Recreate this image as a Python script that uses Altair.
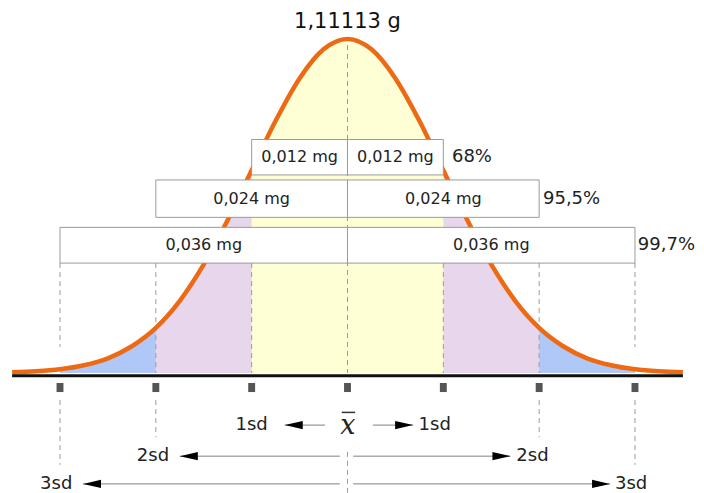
import altair as alt
import pandas as pd

# ---------------- data ----------------
title_text = "1,11113 g"

# curve (relative height, peak = 1) at steps of 0.25 sd
curve_z = [-3.5, -3.25, -3.0, -2.75, -2.5, -2.25, -2.0, -1.75, -1.5, -1.25, -1.0,
           -0.75, -0.5, -0.25, 0.0, 0.25, 0.5, 0.75, 1.0, 1.25, 1.5, 1.75, 2.0,
           2.25, 2.5, 2.75, 3.0, 3.25, 3.5]
curve_h = [0.002, 0.005, 0.011, 0.023, 0.044, 0.080, 0.135, 0.216, 0.325, 0.458, 0.607,
           0.755, 0.882, 0.969, 1.000, 0.969, 0.882, 0.755, 0.607, 0.458, 0.325, 0.216, 0.135,
           0.080, 0.044, 0.023, 0.011, 0.005, 0.002]

sd_marks = [-3, -2, -1, 0, 1, 2, 3]

band_names = ["1sd", "2sd", "3sd"]
band_colors = ["#FFFFD6", "#E8D6EC", "#B0C8F8"]
band_segments = [(-1, 1, "1sd"), (-2, -1, "2sd"), (1, 2, "2sd"), (-3, -2, "3sd"), (2, 3, "3sd")]

box_levels = [1, 2, 3]
box_labels = ["0,012 mg", "0,024 mg", "0,036 mg"]
pct_labels = ["68%", "95,5%", "99,7%"]
box_top = [0.699, 0.578, 0.436]
box_bottom = [0.593, 0.466, 0.329]
pct_x = [1.09, 2.04, 3.03]

# dashed guides above the axis (x, from, to)
upper_dash_x = [-3, -2, -1, 1, 2, 3]
upper_dash_y1 = [0.329, 0.329, 0.329, 0.329, 0.329, 0.329]
upper_dash_y2 = [0.078, 0.0, 0.0, 0.0, 0.0, 0.078]
center_dash = [0.982, 0.0]

# dashed guides below the axis
lower_dash_x = [-3, -2, 0, 2, 3]
lower_dash_y1 = [-0.081, -0.081, -0.236, -0.081, -0.081]
lower_dash_y2 = [-0.275, -0.192, -0.360, -0.192, -0.275]

# arrows: (label, text x, line start, arrow tip, row y)
arrow_labels = ["1sd", "1sd", "2sd", "2sd", "3sd", "3sd"]
arrow_text_x = [-1.00, 0.91, -2.03, 1.93, -3.04, 2.96]
arrow_start = [-0.235, 0.265, -0.08, 0.06, -0.08, 0.06]
arrow_tip = [-0.655, 0.685, -1.75, 1.70, -2.76, 2.74]
arrow_y = [-0.156, -0.156, -0.249, -0.249, -0.332, -0.332]

axis_y = -0.008
tick_y = [-0.030, -0.057]

XD = [-3.5427, 3.6367]
YD = [-0.3593, 1.0928]
FONT = "DejaVu Sans"

# ---------------- tables ----------------
area_rows = []
for i, (lo, hi, band) in enumerate(band_segments):
    for z, h in zip(curve_z, curve_h):
        if lo <= z <= hi:
            area_rows.append({"z": z, "h": h, "b": 0.0, "band": band, "seg": i})
area_df = pd.DataFrame(area_rows)
curve_df = pd.DataFrame({"z": curve_z, "h": curve_h})

box_rows, box_text_rows, pct_rows = [], [], []
for lvl, lab, pl, t, b, px in zip(box_levels, box_labels, pct_labels, box_top, box_bottom, pct_x):
    for side in (-1, 1):
        box_rows.append({"x1": 0, "x2": side * lvl, "y1": b, "y2": t})
        box_text_rows.append({"x": side * lvl / 2, "y": (t + b) / 2, "t": lab})
    pct_rows.append({"x": px, "y": (t + b) / 2, "t": pl})
box_df = pd.DataFrame(box_rows)
box_text_df = pd.DataFrame(box_text_rows)
pct_df = pd.DataFrame(pct_rows)

upper_df = pd.DataFrame({"x": upper_dash_x, "y1": upper_dash_y1, "y2": upper_dash_y2})
center_df = pd.DataFrame({"x": [0], "y1": [center_dash[0]], "y2": [center_dash[1]]})
lower_df = pd.DataFrame({"x": lower_dash_x, "y1": lower_dash_y1, "y2": lower_dash_y2})
tick_df = pd.DataFrame({"x1": [s - 0.036 for s in sd_marks], "x2": [s + 0.036 for s in sd_marks],
                        "y1": [tick_y[0]] * 7, "y2": [tick_y[1]] * 7})
axis_df = pd.DataFrame({"x1": [curve_z[0]], "x2": [curve_z[-1]], "y": [axis_y]})
arrow_df = pd.DataFrame({"t": arrow_labels, "tx": arrow_text_x, "x1": arrow_start,
                         "x2": arrow_tip, "y": arrow_y})
arrow_df["dir"] = ["L" if v < 0 else "R" for v in arrow_df["x2"]]
title_df = pd.DataFrame({"x": [0], "y": [1.033], "t": [title_text]})
xbar_df = pd.DataFrame({"x": [0.005], "y": [-0.158], "t": ["x"]})
overline_df = pd.DataFrame({"x1": [-0.06], "x2": [0.08], "y": [-0.118]})

xs = alt.Scale(domain=XD, nice=False, zero=False)
ys = alt.Scale(domain=YD, nice=False, zero=False)


def X(f):
    return alt.X(f + ":Q", scale=xs, axis=None)


def Y(f):
    return alt.Y(f + ":Q", scale=ys, axis=None)


areas = alt.Chart(area_df).mark_area(interpolate="monotone").encode(
    x=X("z"), y=Y("h"), y2="b:Q",
    color=alt.Color("band:N", scale=alt.Scale(domain=band_names, range=band_colors), legend=None),
    detail="seg:N",
)

dash_style = dict(color="#9A9A9A", strokeWidth=1, strokeDash=[5, 4])
upper = alt.Chart(upper_df).mark_rule(**dash_style).encode(x=X("x"), y=Y("y1"), y2="y2:Q")
center = alt.Chart(center_df).mark_rule(**dash_style).encode(x=X("x"), y=Y("y1"), y2="y2:Q")
lower = alt.Chart(lower_df).mark_rule(**dash_style).encode(x=X("x"), y=Y("y1"), y2="y2:Q")

curve = alt.Chart(curve_df).mark_line(color="#EC6A14", strokeWidth=4.5, interpolate="monotone").encode(
    x=X("z"), y=Y("h"))

boxes = alt.Chart(box_df).mark_rect(fill="white", stroke="#9A9A9A", strokeWidth=1).encode(
    x=X("x1"), x2="x2:Q", y=Y("y1"), y2="y2:Q")

box_text = alt.Chart(box_text_df).mark_text(font=FONT, fontSize=16, color="#222").encode(
    x=X("x"), y=Y("y"), text="t:N")
pct_text = alt.Chart(pct_df).mark_text(font=FONT, fontSize=18, color="#222", align="left").encode(
    x=X("x"), y=Y("y"), text="t:N")
title = alt.Chart(title_df).mark_text(font=FONT, fontSize=21, color="#111", baseline="alphabetic").encode(
    x=X("x"), y=Y("y"), text="t:N")

axis_line = alt.Chart(axis_df).mark_rule(color="#111", strokeWidth=3).encode(
    x=X("x1"), x2="x2:Q", y=Y("y"))
ticks = alt.Chart(tick_df).mark_rect(color="#555").encode(
    x=X("x1"), x2="x2:Q", y=Y("y1"), y2="y2:Q")

arrow_lines = alt.Chart(arrow_df).mark_rule(color="#808080", strokeWidth=1).encode(
    x=X("x1"), x2="x2:Q", y=Y("y"))
heads_l = alt.Chart(arrow_df).transform_filter("datum.dir == 'L'").mark_point(
    shape="M0,0 L2,-0.45 L2,0.45 Z", filled=True, size=324, color="black", opacity=1).encode(
    x=X("x2"), y=Y("y"))
heads_r = alt.Chart(arrow_df).transform_filter("datum.dir == 'R'").mark_point(
    shape="M0,0 L-2,-0.45 L-2,0.45 Z", filled=True, size=324, color="black", opacity=1).encode(
    x=X("x2"), y=Y("y"))
arrow_text = alt.Chart(arrow_df).mark_text(font=FONT, fontSize=18, color="#222").encode(
    x=X("tx"), y=Y("y"), text="t:N")

xbar = alt.Chart(xbar_df).mark_text(font="DejaVu Serif", fontStyle="italic", fontSize=27,
                                    color="#222").encode(x=X("x"), y=Y("y"), text="t:N")
overline = alt.Chart(overline_df).mark_rule(color="#333", strokeWidth=1.5).encode(
    x=X("x1"), x2="x2:Q", y=Y("y"))

chart = alt.layer(
    areas, upper, center, curve, boxes, box_text, pct_text, title,
    axis_line, ticks, lower, arrow_lines, heads_l, heads_r, arrow_text, xbar, overline,
).properties(
    width=688, height=485, padding=0, autosize=alt.AutoSizeParams(type="none"), background="white",
).configure_view(stroke=None)

chart.save("out.html", embed_options={"renderer": "svg", "actions": False})
